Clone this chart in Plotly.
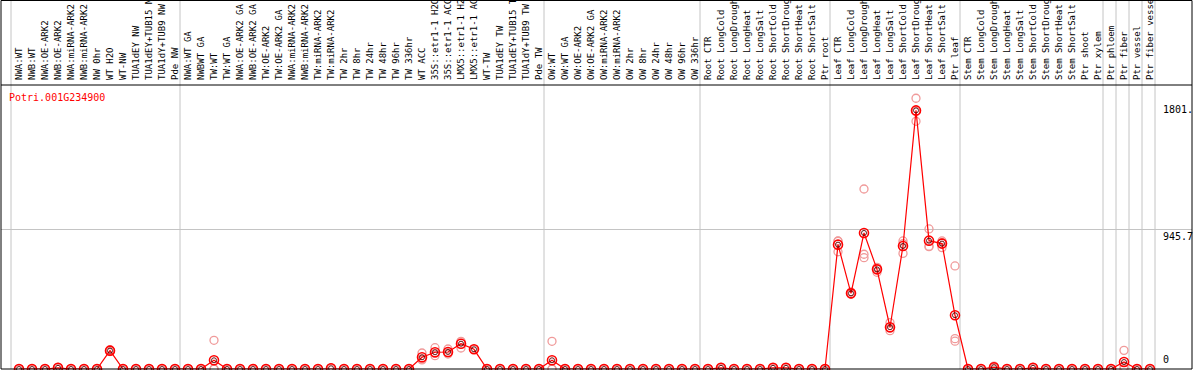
import plotly.graph_objects as go

gene_id = "Potri.001G234900"

categories = [
    "NWA:WT", "NWB:WT", "NWA:OE-ARK2", "NWB:OE-ARK2", "NWA:miRNA-ARK2", "NWB:miRNA-ARK2",
    "NW 0hr", "WT H2O", "WT-NW", "TUA1dEY NW", "TUA1dEY+TUB15 NW", "TUA1dY+TUB9 NW", "Pde NW",
    "NWA:WT GA", "NWBWT GA", "TW:WT", "TW:WT GA", "NWA:OE-ARK2 GA", "NWB:OE-ARK2 GA",
    "TW:OE-ARK2", "TW:OE-ARK2 GA", "NWA:miRNA-ARK2", "NWB:miRNA-ARK2", "TW:miRNA-ARK2",
    "TW:miRNA-ARK2", "TW 2hr", "TW 8hr", "TW 24hr", "TW 48hr", "TW 96hr", "TW 336hr",
    "WT ACC", "35S::etr1-1 H2O", "35S::etr1-1 ACC", "LMX5::etr1-1 H2O", "LMX5::etr1-1 ACC",
    "WT-TW", "TUA1dEY TW", "TUA1dEY+TUB15 TW", "TUA1dY+TUB9 TW", "Pde TW",
    "OW:WT", "OW:WT GA", "OW:OE-ARK2", "OW:OE-ARK2 GA", "OW:miRNA-ARK2", "OW:miRNA-ARK2",
    "OW 2hr", "OW 8hr", "OW 24hr", "OW 48hr", "OW 96hr", "OW 336hr",
    "Root CTR", "Root LongCold", "Root LongDrought", "Root LongHeat", "Root LongSalt",
    "Root ShortCold", "Root ShortDrought", "Root ShortHeat", "Root ShortSalt", "Ptr root",
    "Leaf CTR", "Leaf LongCold", "Leaf LongDrought", "Leaf LongHeat", "Leaf LongSalt",
    "Leaf ShortCold", "Leaf ShortDrought", "Leaf ShortHeat", "Leaf ShortSalt", "Ptr leaf",
    "Stem CTR", "Stem LongCold", "Stem LongDrought", "Stem LongHeat", "Stem LongSalt",
    "Stem ShortCold", "Stem ShortDrought", "Stem ShortHeat", "Stem ShortSalt",
    "Ptr shoot", "Ptr xylem", "Ptr phloem", "Ptr fiber", "Ptr vessel", "Ptr fiber vessel",
]

mean_values = [
    0, 0, 0, 8, 0, 0, 0, 124, 0, 0, 0, 0, 0,
    0, 0, 59, 0, 0, 0, 0, 0, 0, 0, 0, 5, 0, 0, 0, 0, 0, 0,
    79, 113, 115, 171, 133, 0, 0, 0, 0, 0,
    59, 0, 0, 0, 0, 0, 0, 0, 0, 0, 0, 0,
    0, 8, 0, 0, 0, 8, 8, 0, 0, 0,
    840, 511, 919, 673, 282, 831, 1747, 867, 847, 363,
    0, 0, 12, 0, 0, 8, 0, 0, 0, 0, 0,
    0, 47, 0, 0,
]

rep_a = [
    0, 0, 0, 10, 0, 0, 0, 130, 0, 0, 0, 0, 0,
    0, 0, 194, 0, 0, 0, 0, 0, 0, 0, 0, 5, 0, 0, 0, 0, 0, 0,
    108, 144, 135, 142, 133, 0, 0, 0, 0, 0,
    187, 0, 0, 0, 0, 0, 0, 0, 0, 0, 0, 0,
    0, 10, 0, 0, 0, 8, 8, 0, 0, 0,
    865, 520, 1216, 687, 313, 865, 1829, 946, 865, 696,
    0, 0, 20, 0, 0, 10, 0, 0, 0, 0, 0,
    0, 126, 0, 0,
]

rep_b = [
    0, 0, 0, 8, 0, 0, 0, 118, 0, 0, 0, 0, 0,
    0, 0, 0, 0, 0, 0, 0, 0, 0, 0, 0, 5, 0, 0, 0, 0, 0, 0,
    61, 90, 101, 185, 133, 0, 0, 0, 0, 0,
    0, 0, 0, 0, 0, 0, 0, 0, 0, 0, 0, 0,
    0, 8, 0, 0, 0, 8, 8, 0, 0, 0,
    792, 505, 775, 653, 259, 781, 1673, 826, 820, 205,
    0, 0, 10, 0, 0, 8, 0, 0, 0, 0, 0,
    0, 15, 0, 0,
]

rep_c = [
    0, 0, 0, 6, 0, 0, 0, 124, 0, 0, 0, 0, 0,
    0, 0, 0, 0, 0, 0, 0, 0, 0, 0, 0, 5, 0, 0, 0, 0, 0, 0,
    68, 105, 109, 186, 133, 0, 0, 0, 0, 0,
    0, 0, 0, 0, 0, 0, 0, 0, 0, 0, 0, 0,
    0, 6, 0, 0, 0, 8, 8, 0, 0, 0,
    863, 508, 752, 680, 275, 846, 1740, 830, 856, 188,
    0, 0, 6, 0, 0, 6, 0, 0, 0, 0, 0,
    0, 0, 0, 0,
]

group_starts = [0, 13, 41, 53, 63, 73, 84, 85, 86, 87, 88]
scale_labels = ["1801.", "945.7", "0"]
scale_values = [1801, 945.7, 0]
grid_value = 945.7

# ---- layout geometry ----
W, H = 1194, 370
ML, MR, MT, MB = 1, 2, 85, 1
step = 13.0
x_first_px = 19.0
plot_w = W - ML - MR
plot_h = H - MT - MB
xmin = (ML - x_first_px) / step
xmax = (W - MR - x_first_px) / step
units_per_px = grid_value / 140.0
ymax = plot_h * units_per_px

def px_to_paper_x(px):
    return (px - ML) / plot_w

def px_to_paper_y(py):
    return (H - MB - py) / plot_h

x = list(range(len(categories)))

fig = go.Figure()
for reps in (rep_a, rep_b, rep_c):
    fig.add_trace(go.Scatter(
        x=x, y=reps, mode="markers", cliponaxis=False, hoverinfo="skip",
        marker=dict(symbol="circle-open", size=8, color="#f09a9a", line=dict(width=1.3)),
        showlegend=False,
    ))
fig.add_trace(go.Scatter(
    x=x, y=mean_values, mode="lines+markers", cliponaxis=False,
    line=dict(color="#ff0000", width=1.2),
    marker=dict(symbol="circle-open", size=9, color="#ff0000", line=dict(width=1.6)),
    showlegend=False,
))
fig.add_trace(go.Scatter(
    x=x, y=mean_values, mode="markers", cliponaxis=False, hoverinfo="skip",
    marker=dict(symbol="circle-open", size=5, color="#500000", line=dict(width=0.9)),
    showlegend=False,
))

shapes = []
span = xmax - xmin
top_paper = px_to_paper_y(0.5)
for k in group_starts:
    xp = (k - 8.0 / step - xmin) / span
    shapes.append(dict(type="line", xref="paper", yref="paper", x0=xp, x1=xp,
                       y0=0, y1=top_paper, line=dict(color="#c4c4c4", width=1), layer="below"))
shapes.append(dict(type="rect", xref="paper", yref="paper", x0=0, x1=1, y0=0, y1=top_paper,
                   line=dict(color="black", width=1)))
shapes.append(dict(type="line", xref="paper", yref="paper", x0=0, x1=1, y0=1, y1=1,
                   line=dict(color="black", width=1)))

annotations = [dict(
    text=gene_id, xref="paper", yref="paper", x=px_to_paper_x(7), y=px_to_paper_y(97),
    xanchor="left", yanchor="middle", showarrow=False,
    font=dict(family="DejaVu Sans Mono", size=10, color="#ff0000"),
)]
for lab, val in zip(scale_labels, scale_values):
    annotations.append(dict(
        text=lab, xref="paper", yref="y", x=px_to_paper_x(1161), y=val,
        xanchor="left", yanchor="top" if val > 0 else "bottom",
        yshift=0 if val > 0 else 2, showarrow=False,
        font=dict(family="DejaVu Sans Mono", size=10, color="black"),
    ))

fig.update_layout(
    width=W, height=H, margin=dict(l=ML, r=MR, t=MT, b=MB, pad=0, autoexpand=False),
    paper_bgcolor="white", plot_bgcolor="rgba(0,0,0,0)",
    shapes=shapes, annotations=annotations, showlegend=False,
    xaxis=dict(
        side="top", range=[xmin, xmax], tickmode="array", tickvals=x, ticktext=categories,
        tickangle=-90, ticks="", showgrid=False, zeroline=False, showline=False,
        automargin=False, ticklabelstandoff=4,
        tickfont=dict(family="DejaVu Sans Mono", size=9, color="black"),
    ),
    yaxis=dict(
        range=[0, ymax], tickmode="array", tickvals=[grid_value], showticklabels=False,
        showgrid=True, gridcolor="#c4c4c4", gridwidth=1, zeroline=False, showline=False,
        automargin=False,
    ),
)

fig.write_html(
    "out.html",
    config={"displayModeBar": False},
    post_script="document.body.style.margin='0px';document.body.style.overflow='hidden';",
)
